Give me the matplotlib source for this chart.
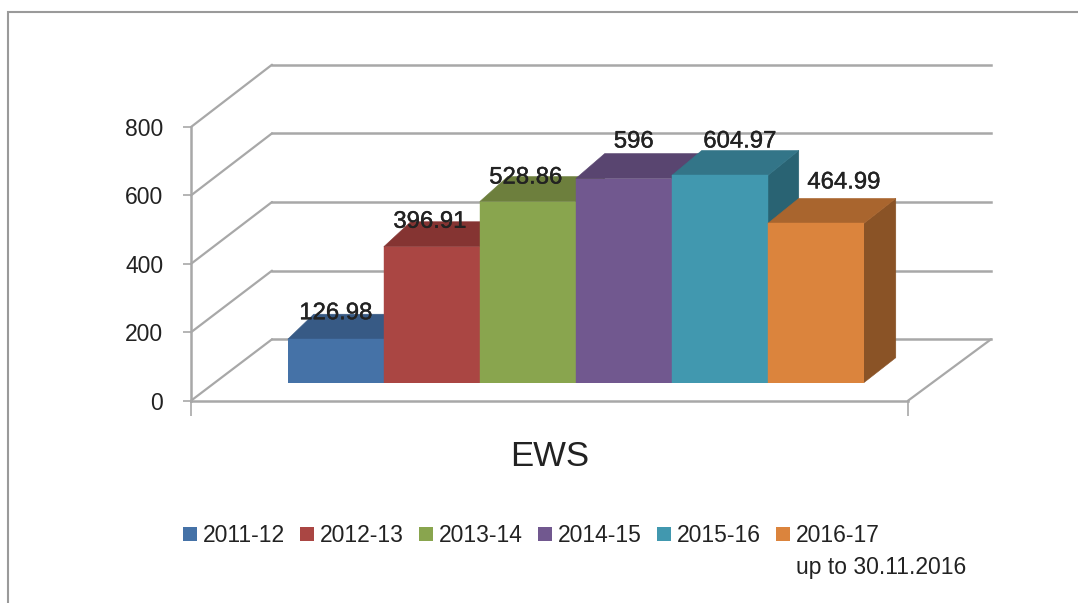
import matplotlib
matplotlib.use("Agg")
import matplotlib.pyplot as plt
import matplotlib.patheffects as pe
from matplotlib.patches import ConnectionPatch, Polygon, Patch, Rectangle

periods = ["2011-12", "2012-13", "2013-14", "2014-15", "2015-16", "2016-17"]
last_period_note = "up to 30.11.2016"
values = [126.98, 396.91, 528.86, 596, 604.97, 464.99]
value_labels = ["126.98", "396.91", "528.86", "596", "604.97", "464.99"]
category = "EWS"
y_ticks = [0, 200, 400, 600, 800]

front_colors = ["#4572A7", "#AA4643", "#89A54E", "#71588F", "#4198AF", "#DB843D"]
top_colors = ["#375A85", "#853432", "#6D7F3D", "#594570", "#337588", "#A9652E"]
side_colors = ["#2D4A6D", "#6E2B29", "#5A6832", "#49395C", "#296373", "#8A5326"]
label_offsets_px = [(0, 20), (-2, 19), (-2, 18), (10, 31), (20, 28), (28, 35)]

W, H = 1078, 603
FONT = ["Liberation Sans", "DejaVu Sans"]
GRID = "#A8A8A8"
TEXT = "#222222"
plt.rcParams["font.family"] = FONT


def box(left, right, top, bottom):
    return [left / W, 1 - bottom / H, (right - left) / W, (bottom - top) / H]


fig = plt.figure(figsize=(W / 100, H / 100), dpi=100, facecolor="white")
fig.add_artist(Rectangle((8 / W, -0.1), 1.2, 1 - 12 / H + 0.1, transform=fig.transFigure,
                         fill=False, ec="#9A9A9A", lw=1.5, zorder=-5))

# back wall, front axis and bar plane share one value scale
ax_back = fig.add_axes(box(272, 991, 64.7, 339.3))
ax_front = fig.add_axes(box(191, 908, 127, 400.7))
ax_bars = fig.add_axes(box(287.8, 863.8, 108.7, 382.7))

for ax in (ax_back, ax_front, ax_bars):
    ax.set_ylim(0, 800)
    ax.patch.set_visible(False)
    for s in ax.spines.values():
        s.set_visible(False)

ax_back.set_yticks(y_ticks)
ax_back.set_xticks([])
ax_back.tick_params(length=0, labelleft=False)
ax_back.grid(axis="y", color=GRID, lw=1.8)
ax_back.set_axisbelow(True)
for line in ax_back.get_ygridlines():
    line.set_clip_on(False)

ax_front.spines["left"].set_visible(True)
ax_front.spines["bottom"].set_visible(True)
for side in ("left", "bottom"):
    ax_front.spines[side].set_color(GRID)
    ax_front.spines[side].set_linewidth(1.8)
ax_front.set_yticks(y_ticks)
ax_front.set_xlim(0, 1)
ax_front.set_xticks([0, 1])
ax_front.set_xticklabels(["", ""])
ax_front.tick_params(axis="y", length=6, width=1.2, color=GRID, labelsize=16.5, labelcolor=TEXT, pad=14)
ax_front.tick_params(axis="x", length=11, width=1.2, color=GRID)
ax_front.set_xlabel(category, fontsize=25, color=TEXT, labelpad=14)

# floor and wall connectors
for v in y_ticks:
    fig.add_artist(ConnectionPatch((0, v), (0, v), coordsA=ax_front.get_yaxis_transform(),
                                   coordsB=ax_back.get_yaxis_transform(), color=GRID, lw=1.6, zorder=-1))
fig.add_artist(ConnectionPatch((1, 0), (1, 0), coordsA=ax_front.get_yaxis_transform(),
                               coordsB=ax_back.get_yaxis_transform(), color=GRID, lw=1.6, zorder=-1))

# bars
ax_bars.set_xlim(-0.5, 5.5)
ax_bars.axis("off")
depth_y = 25 / (274 / 800)


def depth_x(x):
    return 0.27 + (x + 0.5) / 6 * 0.063


xs = range(len(values))
for i in xs:
    v = values[i]
    x0, x1 = i - 0.5, i + 0.5
    d0, d1 = depth_x(x0), depth_x(x1)
    z = 2 + 2 * i
    ax_bars.add_patch(Polygon([(x1, 0), (x1, v), (x1 + d1, v + depth_y), (x1 + d1, depth_y)],
                              fc=side_colors[i], ec=side_colors[i], lw=0.4, zorder=z, clip_on=False))
    ax_bars.add_patch(Polygon([(x0, v), (x1, v), (x1 + d1, v + depth_y), (x0 + d0, v + depth_y)],
                              fc=top_colors[i], ec=top_colors[i], lw=0.4, zorder=z, clip_on=False))
    ax_bars.bar(i, v, width=1, color=front_colors[i], ec=front_colors[i], lw=0.3, zorder=z + 1)

for i in xs:
    dx, dy = label_offsets_px[i]
    ax_bars.annotate(value_labels[i], (i, values[i]), xytext=(dx * 0.72, dy * 0.72),
                     textcoords="offset points", ha="center", va="baseline",
                     fontsize=17.2, color=TEXT, zorder=30, annotation_clip=False,
                     path_effects=[pe.withStroke(linewidth=0.3, foreground=TEXT)])

handles = [Patch(fc=c, ec="none") for c in front_colors]
legend = fig.legend(handles, periods, ncol=6, frameon=False, fontsize=16.5, labelcolor=TEXT,
                    loc="upper left", bbox_to_anchor=(183 / W, 1 - 524 / H), borderaxespad=0, borderpad=0,
                    handlelength=0.61, handleheight=0.61, handletextpad=0.26, columnspacing=0.66)
fig.text(796 / W, 1 - 574 / H, last_period_note, fontsize=16.5, color=TEXT, ha="left", va="baseline")

fig.savefig("out.png", dpi=100, facecolor="white")
